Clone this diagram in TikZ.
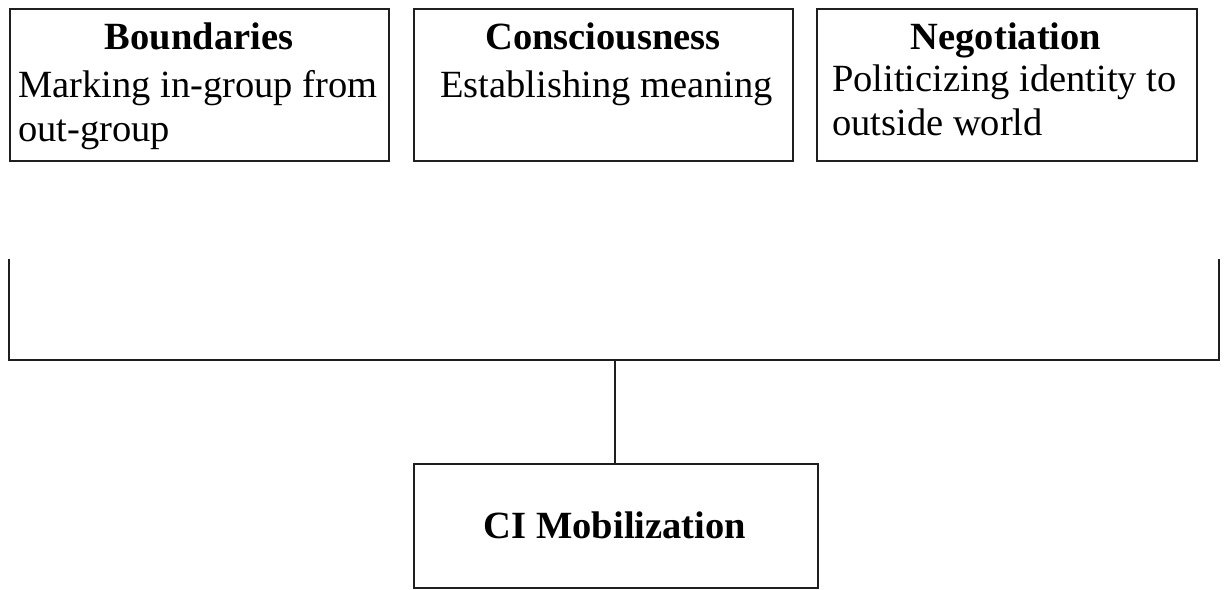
\documentclass[tikz,border=0pt]{standalone}
\usepackage{fontspec}
\setmainfont{Liberation Serif}
\begin{document}
\begin{tikzpicture}[x=1pt,y=-1pt,
  box/.style={draw=black!88,line width=2pt,inner sep=0pt,minimum width=#1,minimum height=152pt,anchor=north west},
  title/.style={anchor=base,font=\fontsize{38.5}{44}\selectfont\bfseries,inner sep=0pt},
  body/.style={anchor=base west,align=left,font=\fontsize{38.5}{44}\selectfont,inner sep=0pt},
  conn/.style={draw=black!88,line width=2pt}]
\useasboundingbox (0,0) rectangle (1225,589);
% top boxes
\node[box=379pt] (b1) at (9,8) {};
\node[box=379pt] (b2) at (413,8) {};
\node[box=380pt] (b3) at (816,8) {};
\node[title] (t1) at (199,49) {Boundaries};
\node[body] (d1) at (18,141) {Marking in-group from\\out-group};
\node[title] (t2) at (603,49) {Consciousness};
\node[body] (d2) at (440,97) {Establishing meaning};
\node[title] (t3) at (1006,49) {Negotiation};
\node[body] (d3) at (832,135) {Politicizing identity to\\outside world};
% bottom box
\node[draw=black!88,line width=2pt,minimum width=404pt,minimum height=124pt,anchor=north west,inner sep=0pt] (m) at (413,463) {};
\node[title,anchor=center] (mt) at (615,525) {CI Mobilization};
% bracket
\coordinate (l) at (9,259);
\coordinate (r) at (1219,259);
\coordinate (j) at (615,360);
\draw[conn] (l) -- (l |- j) -- (r |- j) -- (r);
\draw[conn] (j) -- (j |- m.north);
\end{tikzpicture}
\end{document}
